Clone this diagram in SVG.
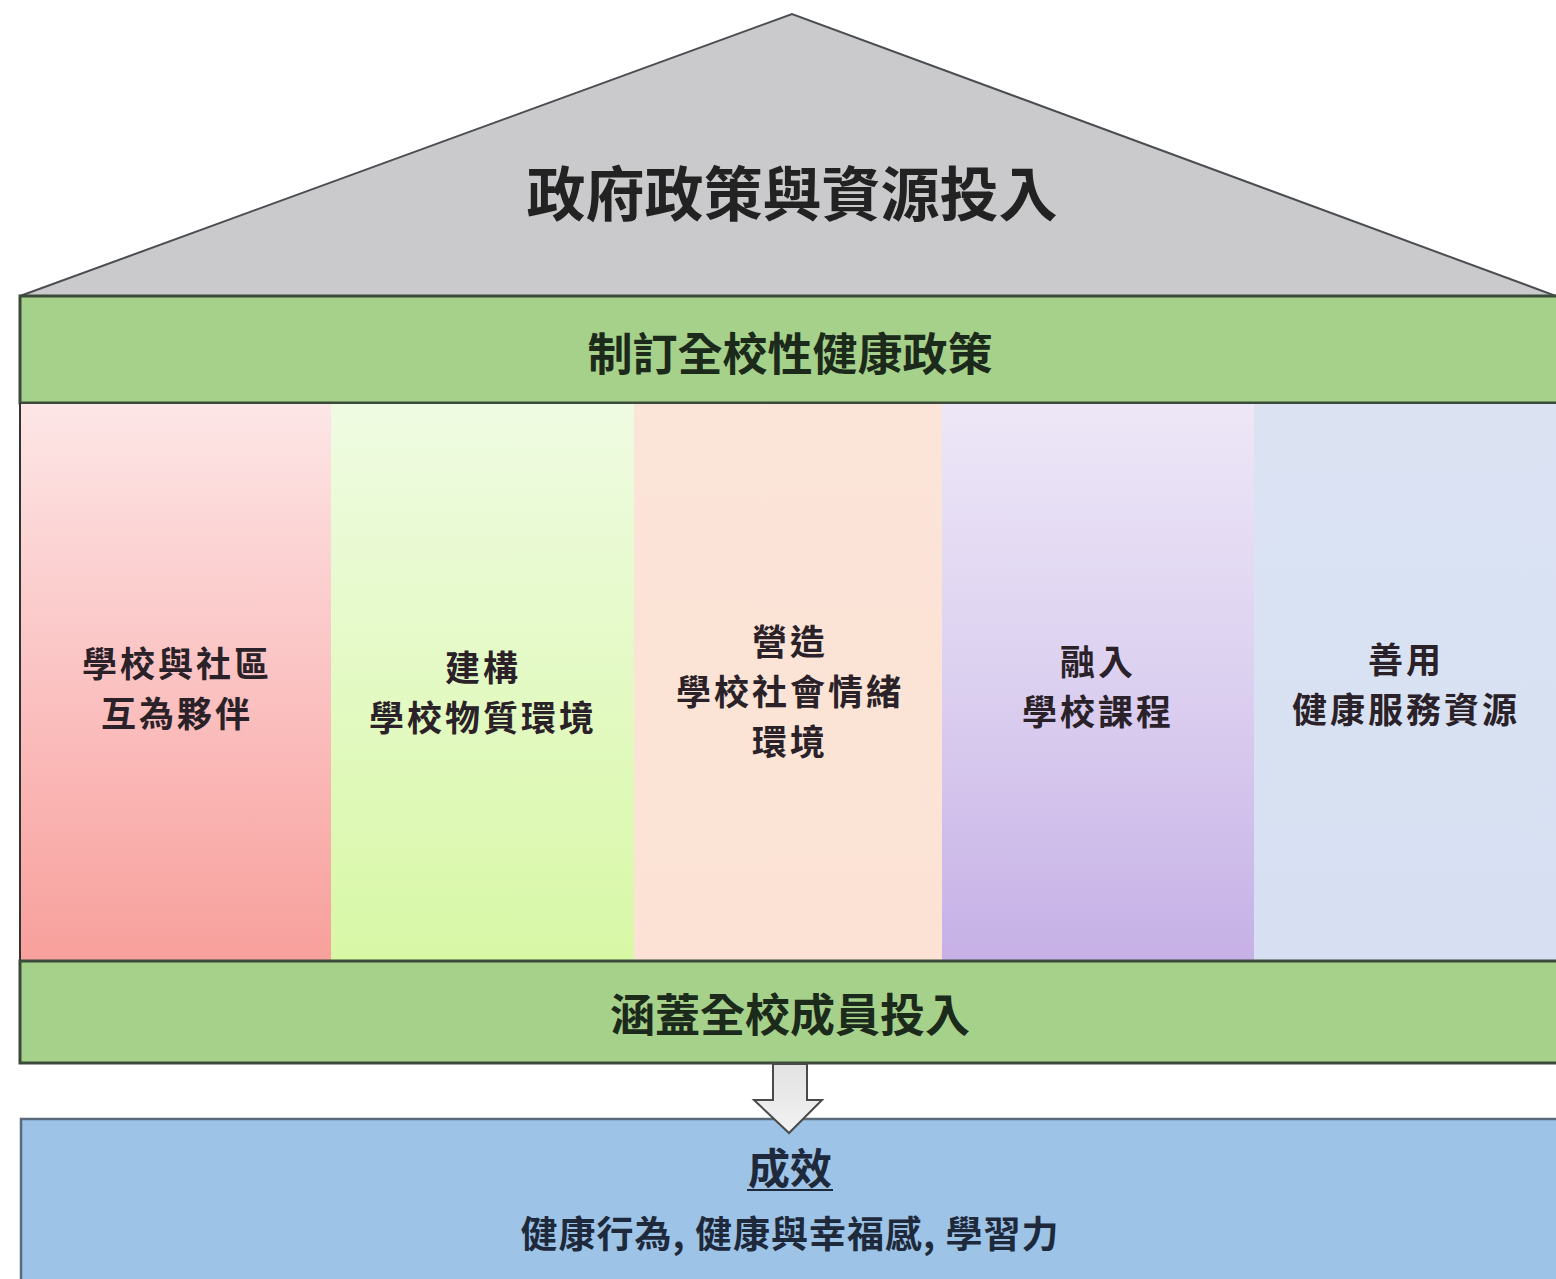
<svg xmlns="http://www.w3.org/2000/svg" width="1556" height="1279" viewBox="0 0 1556 1279">
<defs>
<linearGradient id="gPink" x1="0" y1="0" x2="0" y2="1"><stop offset="0" stop-color="#fde6e6"/><stop offset="0.5" stop-color="#fbc2c2"/><stop offset="1" stop-color="#f8a09c"/></linearGradient>
<linearGradient id="gLime" x1="0" y1="0" x2="0" y2="1"><stop offset="0" stop-color="#effbe2"/><stop offset="1" stop-color="#d8f8a6"/></linearGradient>
<linearGradient id="gPeach" x1="0" y1="0" x2="0" y2="1"><stop offset="0" stop-color="#fbe5d8"/><stop offset="1" stop-color="#fbe2d4"/></linearGradient>
<linearGradient id="gViolet" x1="0" y1="0" x2="0" y2="1"><stop offset="0" stop-color="#ede7f7"/><stop offset="0.5" stop-color="#dcd0f0"/><stop offset="1" stop-color="#c6b0e6"/></linearGradient>
<linearGradient id="gBlue" x1="0" y1="0" x2="0" y2="1"><stop offset="0" stop-color="#dbe3f3"/><stop offset="1" stop-color="#d6e0f2"/></linearGradient>
<linearGradient id="gArrow" x1="0" y1="0" x2="0" y2="1"><stop offset="0" stop-color="#e2e2e2"/><stop offset="1" stop-color="#f2f2f2"/></linearGradient>
</defs>
<style>
text{font-family:"Noto Sans CJK TC","Noto Sans CJK SC",sans-serif;font-weight:700;fill:#1e1e1e;text-anchor:middle;dominant-baseline:central}
.band{fill:#a6d18a;stroke:#3b4a3b;stroke-width:3}
.col{stroke:none}
.t44{font-size:45px;fill:#1c2a1c}
.t36{font-size:35px;fill:#2a2228;letter-spacing:3px}
</style>
<rect width="1556" height="1279" fill="#ffffff"/>
<g id="roof">
<polygon points="20,296 792,14 1556,296" fill="#cacacc" stroke="#4a4d52" stroke-width="2"/>
<text x="792" y="190" style="font-size:59px;fill:#222">政府政策與資源投入</text>
</g>
<g id="policy">
<rect class="band" x="20" y="296" width="1540" height="107"/>
<text class="t44" x="790" y="351">制訂全校性健康政策</text>
</g>
<g id="col1">
<rect class="col" x="21" y="404" width="310" height="556" fill="url(#gPink)"/>
<text class="t36" x="177" y="661">學校與社區</text>
<text class="t36" x="177" y="711">互為夥伴</text>
</g>
<g id="col2">
<rect class="col" x="331" y="404" width="303" height="556" fill="url(#gLime)"/>
<text class="t36" x="483" y="665">建構</text>
<text class="t36" x="483" y="715">學校物質環境</text>
</g>
<g id="col3">
<rect class="col" x="634" y="404" width="308" height="556" fill="url(#gPeach)"/>
<text class="t36" x="790" y="639">營造</text>
<text class="t36" x="790" y="689">學校社會情緒</text>
<text class="t36" x="790" y="739">環境</text>
</g>
<g id="col4">
<rect class="col" x="942" y="404" width="312" height="556" fill="url(#gViolet)"/>
<text class="t36" x="1098" y="659">融入</text>
<text class="t36" x="1098" y="709">學校課程</text>
</g>
<g id="col5">
<rect class="col" x="1254" y="404" width="302" height="556" fill="url(#gBlue)"/>
<text class="t36" x="1406" y="657">善用</text>
<text class="t36" x="1406" y="707">健康服務資源</text>
</g>
<line x1="20" y1="403" x2="20" y2="1064" stroke="#333" stroke-width="2"/>
<g id="members">
<rect class="band" x="20" y="961" width="1540" height="102"/>
<text class="t44" x="790" y="1012">涵蓋全校成員投入</text>
</g>
<g id="outcome">
<rect x="21" y="1119" width="1540" height="162" fill="#9dc3e6" stroke="#5a6a7a" stroke-width="2.5"/>
<text x="790" y="1165" style="font-size:42px;fill:#1e2a3c">成效</text>
<line x1="747" y1="1190" x2="833" y2="1190" stroke="#1e2a3c" stroke-width="2"/>
<text x="790" y="1232" style="font-size:37px;fill:#1e2a3c;letter-spacing:1px">健康行為, 健康與幸福感, 學習力</text>
</g>
<g id="connectors">
<polygon points="773,1064 807,1064 807,1100 822,1100 789,1133 754,1100 773,1100" fill="url(#gArrow)" stroke="#4a4a4a" stroke-width="2"/>
</g>
</svg>
